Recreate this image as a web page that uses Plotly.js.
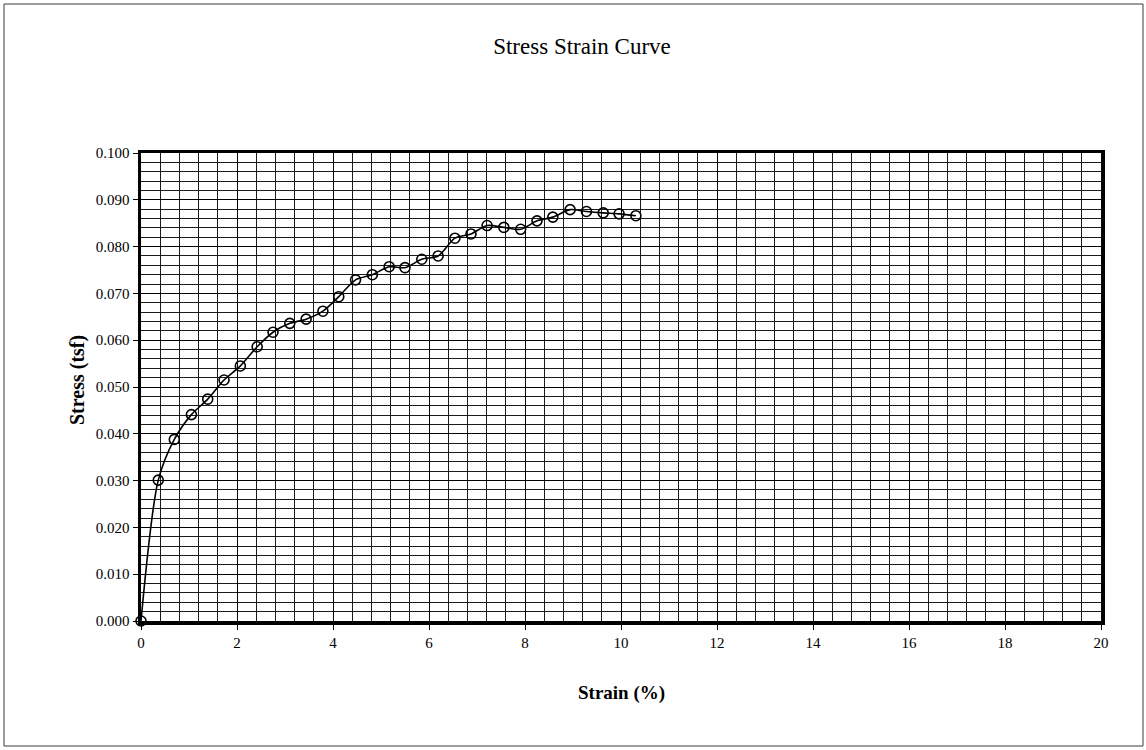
<!DOCTYPE html>
<html>
<head>
<meta charset="utf-8">
<script src="https://cdn.plot.ly/plotly-3.0.1.min.js"></script>
<style>
  html, body { margin: 0; padding: 0; background: #ffffff; }
  #chart { width: 1146px; height: 750px; }
</style>
</head>
<body>
<div id="chart"></div>
<script>
const strain = [0, 0.36, 0.694, 1.05, 1.39, 1.73, 2.07, 2.42, 2.75, 3.10, 3.44, 3.79, 4.12, 4.47, 4.82, 5.17, 5.50, 5.85, 6.19, 6.54, 6.875, 7.21, 7.56, 7.91, 8.25, 8.58, 8.94, 9.28, 9.63, 9.96, 10.31];
const stress = [0.000, 0.0301, 0.0388, 0.0441, 0.0474, 0.0515, 0.0545, 0.0586, 0.0617, 0.0636, 0.0645, 0.0662, 0.0693, 0.0729, 0.0740, 0.0757, 0.0755, 0.0773, 0.0780, 0.0818, 0.0827, 0.0845, 0.0841, 0.0837, 0.0855, 0.0863, 0.0879, 0.0875, 0.0872, 0.0870, 0.0866];

const chartTitle = "Stress Strain Curve";
const xTitle = "Strain (%)";
const yTitle = "Stress (tsf)";

const serif = "Liberation Serif, Times New Roman, serif";

const W = 1146, H = 750;
const L = 141, R = 45, T = 153, B = 129;
const pw = W - L - R, ph = H - T - B;
function px2x(p) { return (p - L) / pw; }
function py2y(p) { return (H - B - p) / ph; }

const trace = {
  x: strain,
  y: stress,
  type: 'scatter',
  mode: 'lines+markers',
  line: { color: '#000000', width: 1.6, shape: 'spline', smoothing: 0.8 },
  marker: { symbol: 'circle-open', size: 10, color: '#000000', line: { width: 1.6, color: '#000000' } },
  cliponaxis: false,
  hoverinfo: 'x+y'
};

const layout = {
  width: W, height: H,
  margin: { l: L, r: R, t: T, b: B },
  paper_bgcolor: '#ffffff',
  plot_bgcolor: '#ffffff',
  showlegend: false,
  font: { family: serif, color: '#000000', size: 15 },
  title: {
    text: chartTitle,
    font: { family: serif, size: 23, color: '#000000' },
    xref: 'container', x: 582 / W, xanchor: 'center',
    yref: 'container', y: 1 - 46 / H, yanchor: 'middle'
  },
  xaxis: {
    range: [0, 20],
    dtick: 2, tick0: 0,
    ticks: 'outside', ticklen: 5, tickwidth: 1, tickcolor: '#000000',
    showgrid: true, gridcolor: '#000000', gridwidth: 1,
    minor: { dtick: 0.4, showgrid: true, gridcolor: '#1a1a1a', gridwidth: 1, ticks: '' },
    showline: true, linecolor: '#000000', linewidth: 3.5, mirror: true,
    zeroline: false,
    tickfont: { family: serif, size: 15, color: '#000000' },
    fixedrange: true
  },
  yaxis: {
    range: [0, 0.1],
    dtick: 0.01, tick0: 0,
    tickformat: '.3f',
    ticks: 'outside', ticklen: 5, tickwidth: 1, tickcolor: '#000000',
    showgrid: true, gridcolor: '#000000', gridwidth: 1,
    minor: { dtick: 0.002, showgrid: true, gridcolor: '#1a1a1a', gridwidth: 1, ticks: '' },
    showline: true, linecolor: '#000000', linewidth: 3.5, mirror: true,
    zeroline: false,
    tickfont: { family: serif, size: 15, color: '#000000' },
    fixedrange: true
  },
  annotations: [
    {
      text: '<b>' + xTitle + '</b>',
      xref: 'paper', yref: 'paper',
      x: px2x(621), y: py2y(693),
      xanchor: 'center', yanchor: 'middle',
      showarrow: false,
      font: { family: serif, size: 19, color: '#000000' }
    },
    {
      text: '<b>' + yTitle + '</b>',
      xref: 'paper', yref: 'paper',
      x: px2x(77), y: py2y(380),
      xanchor: 'center', yanchor: 'middle',
      textangle: -90,
      showarrow: false,
      font: { family: serif, size: 20, color: '#000000' }
    }
  ],
  shapes: [
    {
      type: 'rect', xref: 'paper', yref: 'paper',
      x0: px2x(4), x1: px2x(1143), y0: py2y(746), y1: py2y(4),
      line: { color: '#3a3a3a', width: 1 }, fillcolor: 'rgba(0,0,0,0)',
      layer: 'below'
    }
  ]
};

Plotly.newPlot('chart', [trace], layout, { displayModeBar: false, staticPlot: true });
</script>
</body>
</html>
